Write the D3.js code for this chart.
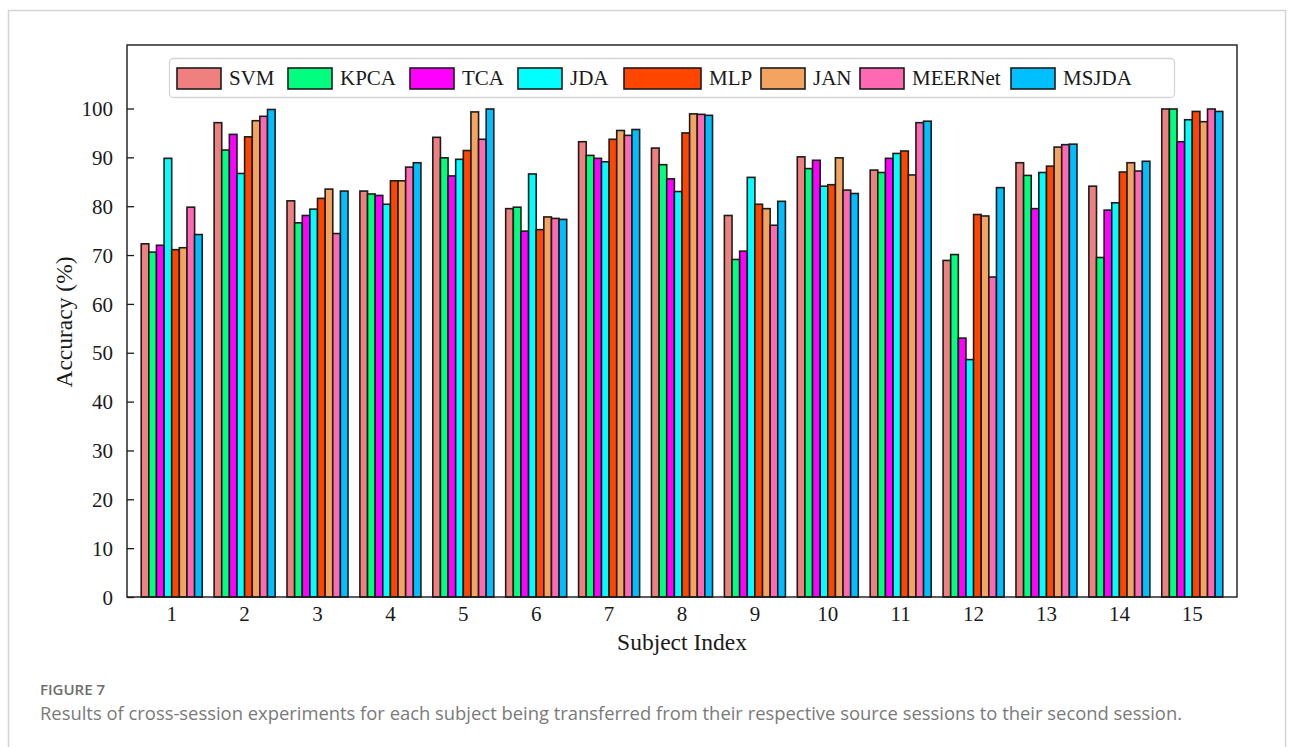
<!DOCTYPE html>
<html>
<head>
<meta charset="utf-8">
<script src="https://cdn.jsdelivr.net/npm/d3@7"></script>
<style>
  html, body { margin: 0; padding: 0; background: #ffffff; }
  svg { display: block; }
</style>
</head>
<body>
<svg id="chart" width="1293" height="747"></svg>
<script>
// Subjects on the x axis
const subjects = ["1","2","3","4","5","6","7","8","9","10","11","12","13","14","15"];

// Methods compared (legend order)
const methods = ["SVM","KPCA","TCA","JDA","MLP","JAN","MEERNet","MSJDA"];

// Cross-session accuracy (%) per method, one value per subject
const svm     = [72.3, 97.1, 81.1, 83.1, 94.1, 79.5, 93.2, 91.9, 78.1, 90.1, 87.4, 68.9, 88.9, 84.1, 99.9];
const kpca    = [70.6, 91.5, 76.6, 82.5, 89.9, 79.8, 90.4, 88.5, 69.1, 87.7, 86.9, 70.1, 86.3, 69.5, 99.9];
const tca     = [72.0, 94.7, 78.1, 82.2, 86.2, 74.9, 89.8, 85.6, 70.8, 89.4, 89.8, 53.0, 79.5, 79.2, 93.2];
const jda     = [89.8, 86.7, 79.4, 80.4, 89.6, 86.6, 89.1, 83.0, 85.9, 84.1, 90.8, 48.6, 86.9, 80.7, 97.7];
const mlp     = [71.1, 94.2, 81.6, 85.2, 91.4, 75.2, 93.7, 95.0, 80.4, 84.4, 91.3, 78.3, 88.2, 87.0, 99.4];
const jan     = [71.5, 97.5, 83.5, 85.2, 99.3, 77.8, 95.5, 98.9, 79.5, 89.9, 86.4, 78.0, 92.1, 88.9, 97.3];
const meernet = [79.8, 98.4, 74.4, 88.0, 93.7, 77.5, 94.5, 98.8, 76.1, 83.3, 97.1, 65.5, 92.6, 87.2, 99.9];
const msjda   = [74.2, 99.8, 83.1, 88.9, 99.9, 77.3, 95.7, 98.6, 81.0, 82.6, 97.4, 83.8, 92.7, 89.2, 99.4];

const seriesValues = [svm, kpca, tca, jda, mlp, jan, meernet, msjda];
const colors = ["#F08080","#00FF7F","#FF00FF","#00FFFF","#FF4500","#F4A460","#FF69B4","#00BFFF"];

// Y axis ticks
const yTicks = [0,10,20,30,40,50,60,70,80,90,100];

const serif = "'Liberation Serif','Times New Roman',Times,serif";
const svg = d3.select("#chart");

// Page card
svg.append("rect").attr("width", 1293).attr("height", 747).attr("fill", "#ffffff");
svg.append("rect")
  .attr("x", 8.5).attr("y", 10.5).attr("width", 1277).attr("height", 800)
  .attr("fill", "#ffffff").attr("stroke", "#d4d4d4").attr("stroke-width", 1.5);

// Plot area
const plotLeft = 127, plotRight = 1237, plotTop = 45, plotBottom = 597;

const x = d3.scaleBand()
  .domain(subjects)
  .range([plotLeft, plotRight])
  .paddingInner(0.163)
  .paddingOuter(0.195);

const xm = d3.scaleBand()
  .domain(methods)
  .range([0, x.bandwidth()]);

const y = d3.scaleLinear().domain([0, 113]).range([plotBottom, plotTop]);

// Bars
const groups = svg.append("g").selectAll("g")
  .data(subjects)
  .join("g")
  .attr("transform", d => `translate(${x(d)},0)`);

groups.selectAll("rect")
  .data((s, i) => methods.map((m, k) => ({ m, k, v: seriesValues[k][i] })))
  .join("rect")
  .attr("x", d => xm(d.m))
  .attr("width", xm.bandwidth())
  .attr("y", d => y(d.v))
  .attr("height", d => y(0) - y(d.v))
  .attr("fill", d => colors[d.k])
  .attr("stroke", "#1c1c1c")
  .attr("stroke-width", 1.6);

// Frame
svg.append("rect")
  .attr("x", plotLeft).attr("y", plotTop)
  .attr("width", plotRight - plotLeft).attr("height", plotBottom - plotTop)
  .attr("fill", "none").attr("stroke", "#1a1a1a").attr("stroke-width", 1.4);

// Y axis (inward ticks)
const yAxis = svg.append("g")
  .attr("transform", `translate(${plotLeft},0)`)
  .call(d3.axisLeft(y).tickValues(yTicks).tickSize(-7).tickPadding(14).tickFormat(d3.format("d")));
yAxis.select(".domain").remove();
yAxis.selectAll(".tick line").attr("stroke", "#1a1a1a").attr("stroke-width", 1.3);
yAxis.selectAll(".tick text")
  .style("font-family", serif).style("font-size", "21px").attr("fill", "#1a1a1a")
  .attr("dy", "0.34em");

// X axis
const xAxis = svg.append("g")
  .attr("transform", `translate(0,${plotBottom})`)
  .call(d3.axisBottom(x).tickSize(0).tickPadding(9));
xAxis.select(".domain").remove();
xAxis.selectAll(".tick text")
  .style("font-family", serif).style("font-size", "21px").attr("fill", "#1a1a1a");

// Axis titles
svg.append("text")
  .attr("transform", `translate(72,${(plotTop + plotBottom) / 2 + 1}) rotate(-90)`)
  .attr("text-anchor", "middle")
  .style("font-family", serif).style("font-size", "23.5px").attr("fill", "#1a1a1a")
  .text("Accuracy (%)");

svg.append("text")
  .attr("x", (plotLeft + plotRight) / 2).attr("y", 650)
  .attr("text-anchor", "middle")
  .style("font-family", serif).style("font-size", "23.5px").attr("fill", "#1a1a1a")
  .text("Subject Index");

// Legend
const legendBox = { x: 169.5, y: 58.5, w: 1005, h: 39 };
svg.append("rect")
  .attr("x", legendBox.x).attr("y", legendBox.y)
  .attr("width", legendBox.w).attr("height", legendBox.h)
  .attr("rx", 4).attr("ry", 4)
  .attr("fill", "#ffffff").attr("fill-opacity", 0.85)
  .attr("stroke", "#d6d6d6").attr("stroke-width", 1.3);

// Handle left edges and widths for each legend entry
const legendX = [177, 288, 410, 518, 624, 761, 860, 1011];
const legendW = [44, 44, 44, 44, 77, 44, 44, 44];
const legend = svg.append("g").selectAll("g")
  .data(methods)
  .join("g")
  .attr("transform", (d, i) => `translate(${legendX[i]},${legendBox.y + legendBox.h / 2})`);
legend.append("rect")
  .attr("x", 0).attr("y", -10).attr("width", (d, i) => legendW[i]).attr("height", 21)
  .attr("fill", (d, i) => colors[i])
  .attr("stroke", "#1c1c1c").attr("stroke-width", 1.6);
legend.append("text")
  .attr("x", (d, i) => legendW[i] + 8).attr("y", 0).attr("dy", "0.34em")
  .style("font-family", serif).style("font-size", "21px").attr("fill", "#1a1a1a")
  .text(d => d);

// Caption
svg.append("text")
  .attr("x", 40).attr("y", 695)
  .style("font-family", "'Open Sans','Noto Sans',sans-serif")
  .style("font-size", "15px").style("font-weight", 600).attr("fill", "#6e6e6e")
  .text("FIGURE 7");

svg.append("text")
  .attr("x", 40).attr("y", 720)
  .style("font-family", "'Open Sans','Noto Sans',sans-serif")
  .style("font-size", "18.4px").style("font-weight", 400).attr("fill", "#7a7a7a")
  .text("Results of cross-session experiments for each subject being transferred from their respective source sessions to their second session.");
</script>
</body>
</html>
